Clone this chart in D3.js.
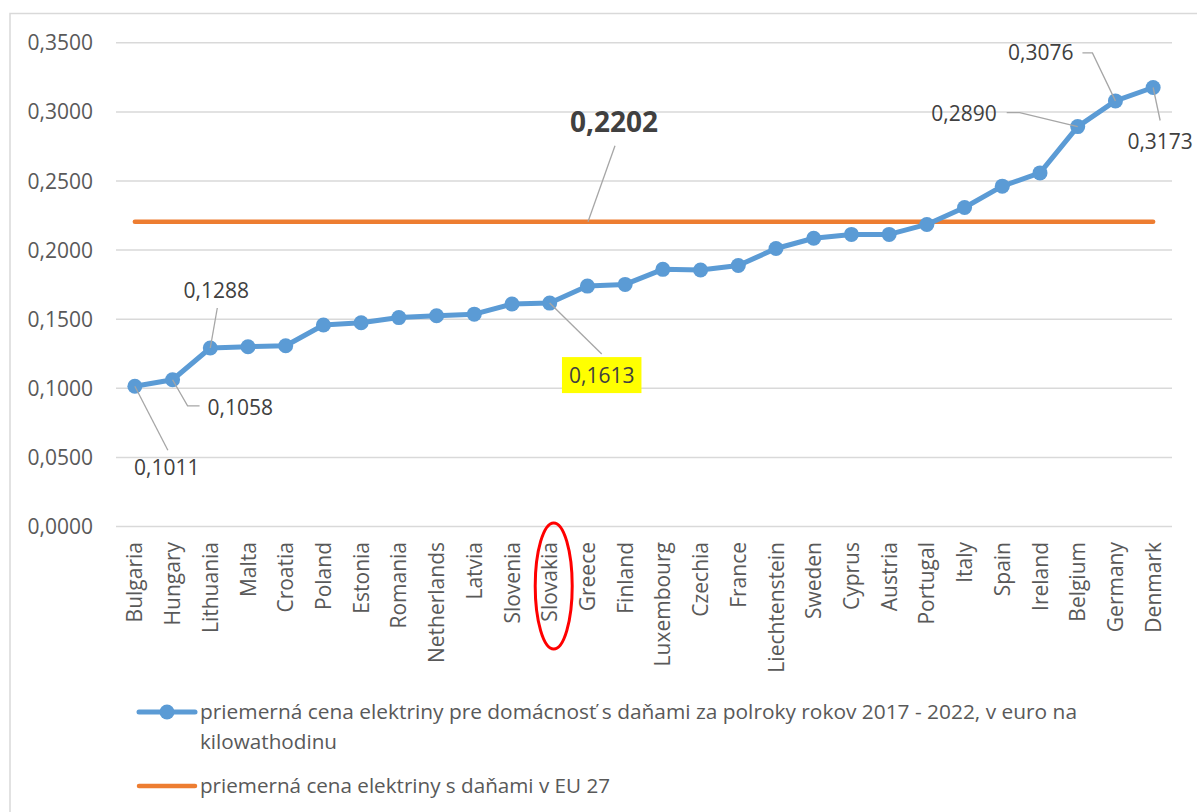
<!DOCTYPE html>
<html>
<head>
<meta charset="utf-8">
<script src="https://cdn.jsdelivr.net/npm/d3@7"></script>
<style>
  html, body { margin: 0; padding: 0; background: #fff; }
  svg { display: block; }
  text { font-family: "Open Sans", "DejaVu Sans", sans-serif; }
</style>
</head>
<body>
<svg id="chart" width="1197" height="812"></svg>
<script>
// ---------- data ----------
const categories = ["Bulgaria","Hungary","Lithuania","Malta","Croatia","Poland","Estonia","Romania","Netherlands","Latvia","Slovenia","Slovakia","Greece","Finland","Luxembourg","Czechia","France","Liechtenstein","Sweden","Cyprus","Austria","Portugal","Italy","Spain","Ireland","Belgium","Germany","Denmark"];
const prices = [0.1011,0.1058,0.1288,0.1297,0.1304,0.1454,0.1471,0.1508,0.1521,0.1533,0.1606,0.1613,0.1736,0.1748,0.1857,0.1852,0.1885,0.2008,0.2082,0.2110,0.2110,0.2182,0.2305,0.2459,0.2555,0.2890,0.3076,0.3173];
const euAverage = 0.2202;
const yTicks = [0, 0.05, 0.10, 0.15, 0.20, 0.25, 0.30, 0.35];
const labelledCountries = ["Bulgaria","Hungary","Lithuania","Slovakia","Belgium","Germany","Denmark"];
const highlightedCountry = "Slovakia";
const legendLabels = [
  "priemerná cena elektriny pre domácnosť s daňami za polroky rokov 2017 - 2022, v euro na",
  "kilowathodinu",
  "priemerná cena elektriny s daňami v EU 27"
];

// ---------- setup ----------
const svg = d3.select("#chart");
const locale = d3.formatLocale({decimal: ",", thousands: " ", grouping: [3], currency: ["", "€"]});
const fmt = locale.format(".4f");

const x = d3.scaleBand().domain(categories).range([116, 1172]);
const y = d3.scaleLinear().domain([0, 0.35]).range([526, 42.3]);
const cx = c => x(c) + x.bandwidth() / 2;

const BLUE = "#5B9BD5", ORANGE = "#ED7D31", GRID = "#D9D9D9", TXT = "#595959", LBL = "#404040", LEAD = "#A6A6A6";

// frame (left + top only visible)
svg.append("path").attr("d", "M10,812 L10,13.5 L1197,13.5")
  .attr("fill", "none").attr("stroke", GRID).attr("stroke-width", 1.5);

// gridlines
const yAxis = d3.axisLeft(y).tickValues(yTicks).tickFormat(fmt).tickSize(-(1172 - 116)).tickPadding(23);
const gy = svg.append("g").attr("transform", "translate(116,0)").call(yAxis);
gy.select(".domain").remove();
gy.selectAll(".tick line").attr("stroke", GRID).attr("stroke-width", 1.5);
gy.selectAll(".tick text").attr("fill", TXT).style("font-size", "21px").attr("dy", "0.36em");

// x axis labels
const xAxis = d3.axisBottom(x).tickSize(0).tickPadding(0);
const gx = svg.append("g").attr("transform", "translate(0,526)").call(xAxis);
gx.select(".domain").remove();
gx.selectAll(".tick text")
  .attr("fill", TXT).style("font-size", "21px")
  .attr("transform", "rotate(-90)")
  .attr("text-anchor", "end")
  .attr("x", -16).attr("y", 0).attr("dy", "0.36em");

// EU average line
svg.append("line")
  .attr("x1", cx(categories[0])).attr("x2", cx(categories[categories.length - 1]))
  .attr("y1", y(euAverage)).attr("y2", y(euAverage))
  .attr("stroke", ORANGE).attr("stroke-width", 4.5).attr("stroke-linecap", "round");

// price line
const pts = categories.map((c, i) => ({c, v: prices[i]}));
svg.append("path").datum(pts)
  .attr("d", d3.line().x(d => cx(d.c)).y(d => y(d.v)))
  .attr("fill", "none").attr("stroke", BLUE).attr("stroke-width", 5).attr("stroke-linejoin", "round");
svg.append("g").selectAll("circle").data(pts).join("circle")
  .attr("cx", d => cx(d.c)).attr("cy", d => y(d.v)).attr("r", 7.5).attr("fill", BLUE);

// ---------- data labels ----------
// leader offsets relative to the point; text anchor position relative to the point
const labelLayout = {
  Bulgaria:  {lead: [[33, 64]],            tx: 32,  ty: 89,  anchor: "middle"},
  Hungary:   {lead: [[15, 26], [27, 26]],  tx: 35,  ty: 35,  anchor: "start"},
  Lithuania: {lead: [[7, -40]],            tx: 6,   ty: -50, anchor: "middle"},
  Slovakia:  {lead: [[52, 51]],            tx: 52,  ty: 80,  anchor: "middle", box: true},
  Belgium:   {lead: [[-58, -14], [-71, -14]], tx: -81, ty: -6, anchor: "end"},
  Germany:   {lead: [[-23, -48], [-33, -48]], tx: -42, ty: -41, anchor: "end"},
  Denmark:   {lead: [[7, 33]],             tx: 7,   ty: 62,  anchor: "middle"}
};
const gl = svg.append("g");
labelledCountries.forEach(c => {
  const i = categories.indexOf(c);
  const px = cx(c), py = y(prices[i]);
  const L = labelLayout[c];
  const linePts = [[px, py]].concat(L.lead.map(o => [px + o[0], py + o[1]]));
  gl.append("path").attr("d", d3.line()(linePts))
    .attr("fill", "none").attr("stroke", LEAD).attr("stroke-width", 1.3);
  const t = gl.append("text").attr("x", px + L.tx).attr("y", py + L.ty)
    .attr("text-anchor", L.anchor).attr("fill", LBL).style("font-size", "21px")
    .text(fmt(prices[i]));
  if (L.box) {
    const bb = t.node().getBBox();
    gl.insert("rect", "text").attr("x", bb.x - 7).attr("y", bb.y - 4)
      .attr("width", bb.width + 14).attr("height", bb.height + 8).attr("fill", "#FFFF00");
  }
});

// EU average label
const euY = y(euAverage), euX = 588;
svg.append("path").attr("d", d3.line()([[euX, euY], [euX + 27, euY - 76]]))
  .attr("fill", "none").attr("stroke", LEAD).attr("stroke-width", 1.3);
svg.append("text").attr("x", euX + 26).attr("y", euY - 90)
  .attr("text-anchor", "middle").attr("fill", LBL)
  .style("font-size", "28px").style("font-weight", "bold")
  .text(fmt(euAverage));

// red ellipse around highlighted category label
svg.append("ellipse").attr("cx", cx(highlightedCountry) + 4).attr("cy", 586)
  .attr("rx", 18.5).attr("ry", 63)
  .attr("fill", "none").attr("stroke", "#FF0000").attr("stroke-width", 3);

// ---------- legend ----------
const lg = svg.append("g");
lg.append("line").attr("x1", 139).attr("x2", 195).attr("y1", 712).attr("y2", 712)
  .attr("stroke", BLUE).attr("stroke-width", 5).attr("stroke-linecap", "round");
lg.append("circle").attr("cx", 167).attr("cy", 712).attr("r", 7.5).attr("fill", BLUE);
lg.append("line").attr("x1", 139).attr("x2", 195).attr("y1", 786).attr("y2", 786)
  .attr("stroke", ORANGE).attr("stroke-width", 4.5).attr("stroke-linecap", "round");
const legendText = [
  {t: legendLabels[0], y: 719, w: 877},
  {t: legendLabels[1], y: 749, w: 137},
  {t: legendLabels[2], y: 793, w: 410}
];
legendText.forEach(d => {
  lg.append("text").attr("x", 200).attr("y", d.y).attr("fill", TXT)
    .style("font-family", "'Liberation Sans Narrow', 'Open Sans', sans-serif")
    .style("font-size", "20px")
    .attr("textLength", d.w).attr("lengthAdjust", "spacingAndGlyphs")
    .text(d.t);
});
</script>
</body>
</html>
